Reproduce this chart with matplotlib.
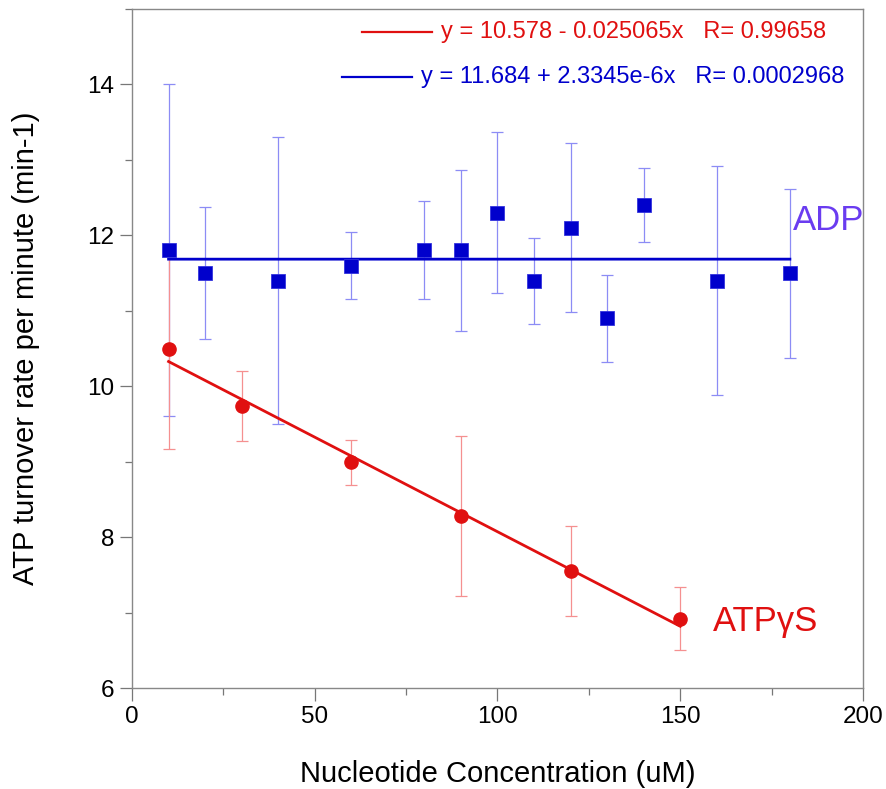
import matplotlib
matplotlib.use("Agg")
import matplotlib.pyplot as plt
from matplotlib.ticker import MultipleLocator
import numpy as np

plt.rcParams['font.family'] = ['Liberation Sans', 'DejaVu Sans']

# ADP series
adp_x = [10, 20, 40, 60, 80, 90, 100, 110, 120, 130, 140, 160, 180]
adp_y = [11.8, 11.5, 11.4, 11.6, 11.8, 11.8, 12.3, 11.4, 12.1, 10.9, 12.4, 11.4, 11.5]
adp_err = [2.2, 0.87, 1.9, 0.45, 0.65, 1.07, 1.07, 0.57, 1.12, 0.58, 0.49, 1.52, 1.12]

# ATPγS series
atp_x = [10, 30, 60, 90, 120, 150]
atp_y = [10.5, 9.74, 8.99, 8.28, 7.55, 6.92]
atp_err = [1.33, 0.46, 0.3, 1.06, 0.6, 0.42]

# linear fits: intercept, slope, R
atp_fit = (10.578, -0.025065, 0.99658)
adp_fit = (11.684, 2.3345e-6, 0.0002968)

red = '#e01010'
red_light = '#f59090'
blue = '#0000cc'
blue_light = '#8c8cf5'

fig = plt.figure(figsize=(8.86, 7.89), dpi=100)
ax = fig.add_axes([0.149, 0.128, 0.825, 0.8606])

# error bars
ax.errorbar(adp_x, adp_y, yerr=adp_err, fmt='none', ecolor=blue_light,
            elinewidth=0.9, capsize=4, capthick=0.9, zorder=2)
ax.errorbar(atp_x, atp_y, yerr=atp_err, fmt='none', ecolor=red_light,
            elinewidth=0.9, capsize=4, capthick=0.9, zorder=2)

# fit lines
xa = np.array([min(adp_x), max(adp_x)])
ax.plot(xa, adp_fit[0] + adp_fit[1] * xa, color=blue, lw=2.0, zorder=3)
xr = np.array([min(atp_x), max(atp_x)])
ax.plot(xr, atp_fit[0] + atp_fit[1] * xr, color=red, lw=2.0, zorder=3)

# markers
ax.plot(adp_x, adp_y, 's', color=blue, ms=9.5, mec='#3333dd', mew=0.6, zorder=4)
ax.plot(atp_x, atp_y, 'o', color=red, ms=9.5, mec=red, zorder=4)

ax.set_xlim(0, 200)
ax.set_ylim(6, 15)
ax.xaxis.set_major_locator(MultipleLocator(50))
ax.xaxis.set_minor_locator(MultipleLocator(25))
ax.yaxis.set_major_locator(MultipleLocator(2))
ax.yaxis.set_minor_locator(MultipleLocator(1))
ax.tick_params(which='major', direction='out', length=9, width=0.9,
               color='#777777', labelsize=17.5, pad=4)
ax.tick_params(which='minor', direction='out', length=5, width=0.9, color='#777777')
ax.tick_params(top=False, right=False)
for s in ax.spines.values():
    s.set_color('#888888')
    s.set_linewidth(1.0)

ax.set_xlabel('Nucleotide Concentration (uM)', fontsize=21, labelpad=23)
ax.set_ylabel('ATP turnover rate per minute (min-1)', fontsize=21, labelpad=34)

# series labels
ax.text(180.8, 12.2, 'ADP', color='#6a3cf0', fontsize=25, va='center', ha='left')
ax.text(159, 6.88, 'ATPγS', color=red, fontsize=25, va='center', ha='left')

# fit equations
def eq(fit):
    b, m, r = fit
    if m < 0:
        term = f'- {abs(m):g}x'
    else:
        term = f'+ {m:g}x'.replace('e-06', 'e-6')
    return f'y = {b:g} {term}   R= {r:g}'

ax.plot([0.315, 0.410], [0.966, 0.966], color=red, lw=1.6, transform=ax.transAxes)
ax.text(0.423, 0.966, eq(atp_fit), color=red, fontsize=17, va='center',
        ha='left', transform=ax.transAxes)
ax.plot([0.287, 0.383], [0.900, 0.900], color=blue, lw=1.6, transform=ax.transAxes)
ax.text(0.395, 0.900, eq(adp_fit), color=blue, fontsize=17, va='center',
        ha='left', transform=ax.transAxes)

fig.savefig('out.png', dpi=100)
